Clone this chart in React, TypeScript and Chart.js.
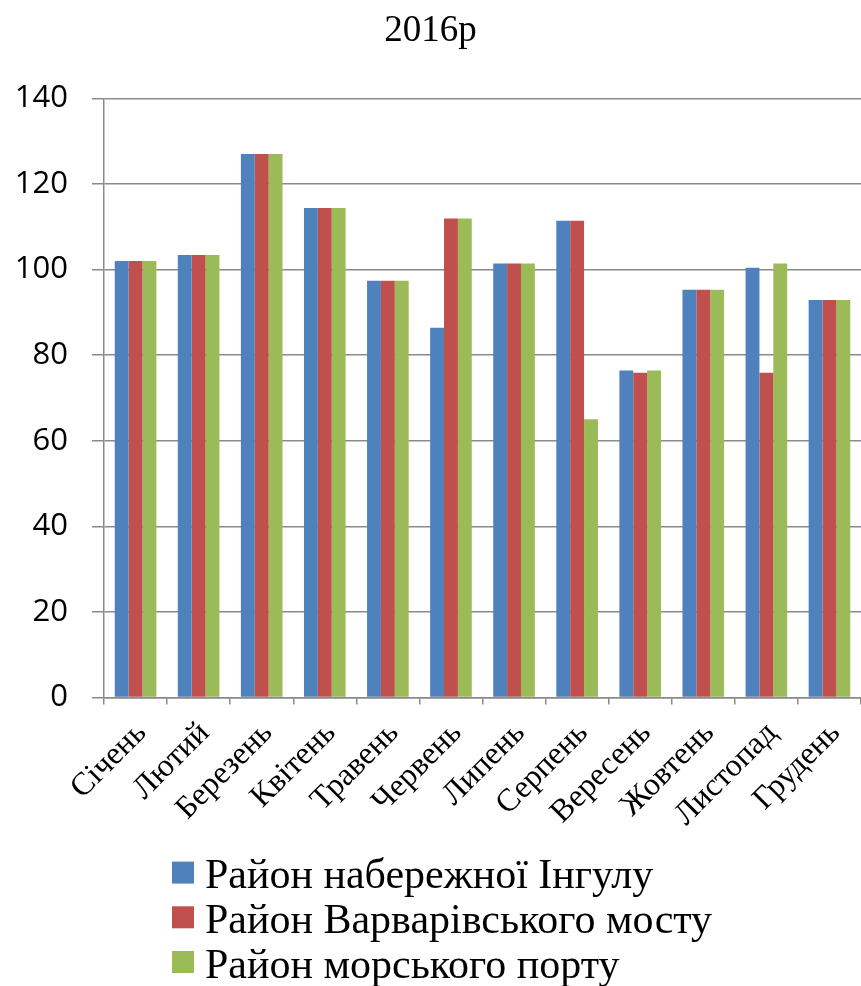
import React, { useEffect, useRef } from "react";
import { Chart, registerables } from "chart.js";

Chart.register(...registerables);

// Monthly values for 2016, three city districts
const months = [
  "Січень", "Лютий", "Березень", "Квітень", "Травень", "Червень",
  "Липень", "Серпень", "Вересень", "Жовтень", "Листопад", "Грудень",
];
const inhulEmbankment = [102, 103.4, 127, 114.4, 97.4, 86.4, 101.4, 111.4, 76.4, 95.3, 100.4, 92.9];
const varvarivBridge = [102, 103.4, 127, 114.4, 97.4, 111.9, 101.4, 111.4, 75.9, 95.3, 75.9, 92.9];
const seaPort = [102, 103.4, 127, 114.4, 97.4, 111.9, 101.4, 65, 76.4, 95.3, 101.4, 92.9];

const seriesNames = [
  "Район набережної Інгулу",
  "Район Варварівського мосту",
  "Район морського порту",
];
const seriesColors = ["#4F81BD", "#C0504D", "#9BBB59"];

const yTicks = { min: 0, max: 140, step: 20 };

const W = 861;
const H = 986;
const GRID = "#8a8a8a";

// Legend as a left-aligned stacked block under the axis labels
const stackedLegend = {
  id: "stackedLegend",
  afterDraw(chart: any) {
    const { ctx, chartArea } = chart;
    ctx.save();
    ctx.font = '42px "Liberation Serif"';
    ctx.textBaseline = "alphabetic";
    ctx.textAlign = "left";
    const x0 = chartArea.left + 68;
    const rowH = 44.7;
    const firstCenter = chartArea.bottom + 175;
    chart.data.datasets.forEach((ds: any, i: number) => {
      const cy = firstCenter + i * rowH;
      ctx.fillStyle = ds.backgroundColor;
      ctx.fillRect(x0, cy - 11, 22, 22);
      ctx.fillStyle = "#000";
      ctx.fillText(ds.label, x0 + 33, cy + 15.8);
    });
    ctx.restore();
  },
};

export default function App() {
  const canvasRef = useRef<HTMLCanvasElement | null>(null);

  useEffect(() => {
    const canvas = canvasRef.current;
    if (!canvas) return;
    const values = [inhulEmbankment, varvarivBridge, seaPort];
    const chart = new Chart(canvas, {
      type: "bar",
      data: {
        labels: months,
        datasets: values.map((d, i) => ({
          label: seriesNames[i],
          data: d,
          backgroundColor: seriesColors[i],
          borderWidth: 0,
          categoryPercentage: 0.66,
          barPercentage: 1,
        })),
      },
      options: {
        responsive: false,
        animation: false,
        devicePixelRatio: 1,
        layout: { padding: 0 },
        plugins: {
          legend: { display: false },
          tooltip: { enabled: false },
          title: {
            display: true,
            text: "2016р",
            color: "#000",
            font: { family: '"Liberation Serif"', size: 37, weight: "normal" },
            padding: { top: 8.7, bottom: 45.2 },
          },
        },
        scales: {
          x: {
            offset: true,
            grid: {
              display: true,
              drawOnChartArea: false,
              drawTicks: true,
              tickLength: 7,
              color: GRID,
              lineWidth: 1.5,
            },
            border: { display: true, color: GRID, width: 1.5 },
            ticks: {
              color: "#000",
              font: { family: '"Liberation Serif"', size: 32 },
              maxRotation: 45,
              minRotation: 45,
              autoSkip: false,
              padding: 10,
              labelOffset: 6,
            },
            afterFit(scale: any) {
              scale.height = H - 697.6;
              // plot runs to the right edge of the canvas
              scale.paddingRight = 0;
              scale.paddingLeft = 0;
            },
          },
          y: {
            min: yTicks.min,
            max: yTicks.max,
            grid: {
              color: GRID,
              lineWidth: 1.5,
              tickLength: 12,
              drawTicks: true,
            },
            border: { display: true, color: GRID, width: 1.5 },
            ticks: {
              stepSize: yTicks.step,
              color: "#000",
              font: { family: '"Open Sans"', size: 31 },
              padding: 24,
            },
            afterFit(scale: any) {
              scale.width = 104;
            },
          },
        },
      },
      plugins: [stackedLegend],
    });
    return () => chart.destroy();
  }, []);

  return (
    <div style={{ position: "absolute", left: 0, top: 0, width: W, height: H, background: "#fff" }}>
      <canvas ref={canvasRef} width={W} height={H} style={{ display: "block", width: W, height: H }} />
    </div>
  );
}
